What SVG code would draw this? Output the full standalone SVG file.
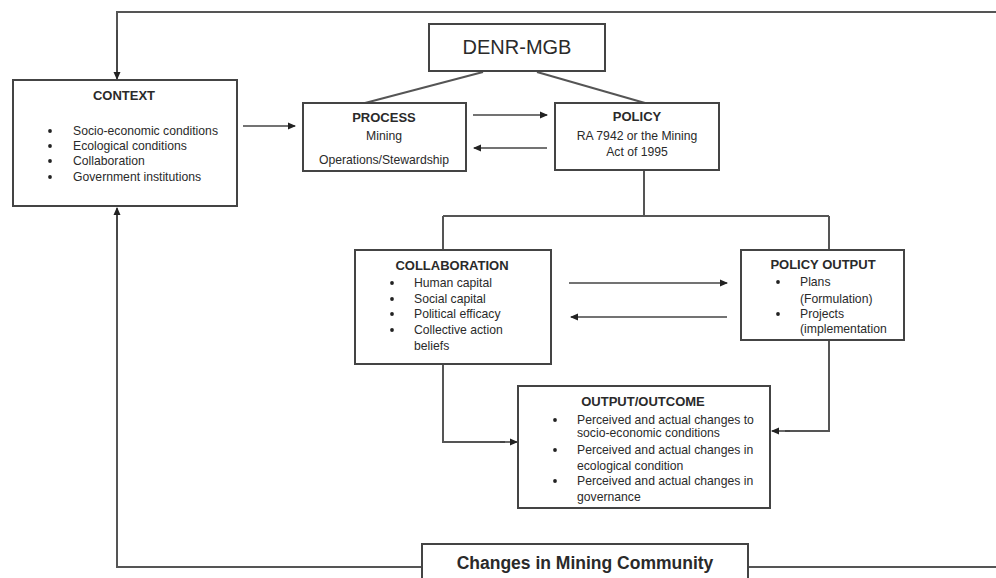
<svg xmlns="http://www.w3.org/2000/svg" width="996" height="578" viewBox="0 0 996 578">
<defs>
<marker id="ah" markerWidth="8" markerHeight="8" refX="7" refY="4" orient="auto" markerUnits="userSpaceOnUse">
<path d="M0,0.5 L8,4 L0,7.5 Z" fill="#222"/>
</marker>
<style>
.box{fill:#fff;stroke:#444;stroke-width:2}
.ln{fill:none;stroke:#555;stroke-width:2}
.ar{fill:none;stroke:#444;stroke-width:1.6;marker-end:url(#ah)}
text{font-family:"Liberation Sans",Arial,sans-serif;fill:#2a2a2a}
.t{font-size:13px;font-weight:bold;text-anchor:middle}
.b{font-size:12.2px}
.c{font-size:12.2px;text-anchor:middle}
.dot{fill:#222}
</style>
</defs>
<rect width="996" height="578" fill="#fff"/>
<g id="connectors">
<path class="ln" d="M996,12 H117 V74"/>
<path class="ar" d="M117,30 V79"/>
<path class="ln" d="M421,567 H117 V214"/>
<path class="ar" d="M117,240 V208"/>
<path class="ln" d="M748,567 H996"/>
<path class="ar" d="M243,126 H295"/>
<path class="ln" d="M483,72 L365,103"/>
<path class="ln" d="M537,72 L645,103"/>
<path class="ar" d="M473,115 H547"/>
<path class="ar" d="M547,148 H474"/>
<path class="ln" d="M644,171 V216 M443,216 H829 M443,216 V250 M829,216 V250"/>
<path class="ar" d="M569,283 H727"/>
<path class="ar" d="M727,317 H571"/>
<path class="ln" d="M443,364 V442 H505"/>
<path class="ar" d="M500,442 H517"/>
<path class="ln" d="M829,340 V431 H785"/>
<path class="ar" d="M790,431 H772"/>
</g>
<g id="denr">
<rect class="box" x="429" y="24" width="176" height="47"/>
<text x="517" y="54" style="font-size:20px;text-anchor:middle">DENR-MGB</text>
</g>
<g id="context">
<rect class="box" x="13" y="80" width="224" height="126"/>
<text class="t" x="124" y="100">CONTEXT</text>
<circle class="dot" cx="50" cy="131" r="1.9"/>
<circle class="dot" cx="50" cy="146" r="1.9"/>
<circle class="dot" cx="50" cy="161" r="1.9"/>
<circle class="dot" cx="50" cy="177" r="1.9"/>
<text class="b" x="73" y="135">Socio-economic conditions</text>
<text class="b" x="73" y="150">Ecological conditions</text>
<text class="b" x="73" y="165">Collaboration</text>
<text class="b" x="73" y="181">Government institutions</text>
</g>
<g id="process">
<rect class="box" x="303" y="103" width="163" height="68"/>
<text class="t" x="384" y="122">PROCESS</text>
<text class="c" x="384" y="140">Mining</text>
<text class="c" x="384" y="164">Operations/Stewardship</text>
</g>
<g id="policy">
<rect class="box" x="555" y="103" width="164" height="67"/>
<text class="t" x="637" y="121">POLICY</text>
<text class="c" x="637" y="140">RA 7942 or the Mining</text>
<text class="c" x="637" y="156">Act of 1995</text>
</g>
<g id="collaboration">
<rect class="box" x="355" y="250" width="196" height="114"/>
<text class="t" x="452" y="270">COLLABORATION</text>
<circle class="dot" cx="392" cy="283" r="1.9"/>
<circle class="dot" cx="392" cy="299" r="1.9"/>
<circle class="dot" cx="392" cy="314" r="1.9"/>
<circle class="dot" cx="392" cy="330" r="1.9"/>
<text class="b" x="414" y="287">Human capital</text>
<text class="b" x="414" y="303">Social capital</text>
<text class="b" x="414" y="318">Political efficacy</text>
<text class="b" x="414" y="334">Collective action</text>
<text class="b" x="414" y="350">beliefs</text>
</g>
<g id="policy-output">
<rect class="box" x="741" y="250" width="163" height="90"/>
<text class="t" x="823" y="269">POLICY OUTPUT</text>
<circle class="dot" cx="778" cy="282" r="1.9"/>
<circle class="dot" cx="778" cy="314" r="1.9"/>
<text class="b" x="800" y="286">Plans</text>
<text class="b" x="800" y="303">(Formulation)</text>
<text class="b" x="800" y="318">Projects</text>
<text class="b" x="800" y="333">(implementation</text>
</g>
<g id="output-outcome">
<rect class="box" x="518" y="386" width="252" height="122"/>
<text class="t" x="643" y="406">OUTPUT/OUTCOME</text>
<circle class="dot" cx="555" cy="420" r="1.9"/>
<circle class="dot" cx="555" cy="450" r="1.9"/>
<circle class="dot" cx="555" cy="481" r="1.9"/>
<text class="b" x="577" y="424">Perceived and actual changes to</text>
<text class="b" x="577" y="437">socio-economic conditions</text>
<text class="b" x="577" y="454">Perceived and actual changes  in</text>
<text class="b" x="577" y="470">ecological condition</text>
<text class="b" x="577" y="485">Perceived and actual changes in</text>
<text class="b" x="577" y="501">governance</text>
</g>
<g id="changes">
<rect class="box" x="422" y="544" width="326" height="40"/>
<text x="585" y="569" style="font-size:17.5px;font-weight:bold;text-anchor:middle">Changes in Mining Community</text>
</g>
</svg>
